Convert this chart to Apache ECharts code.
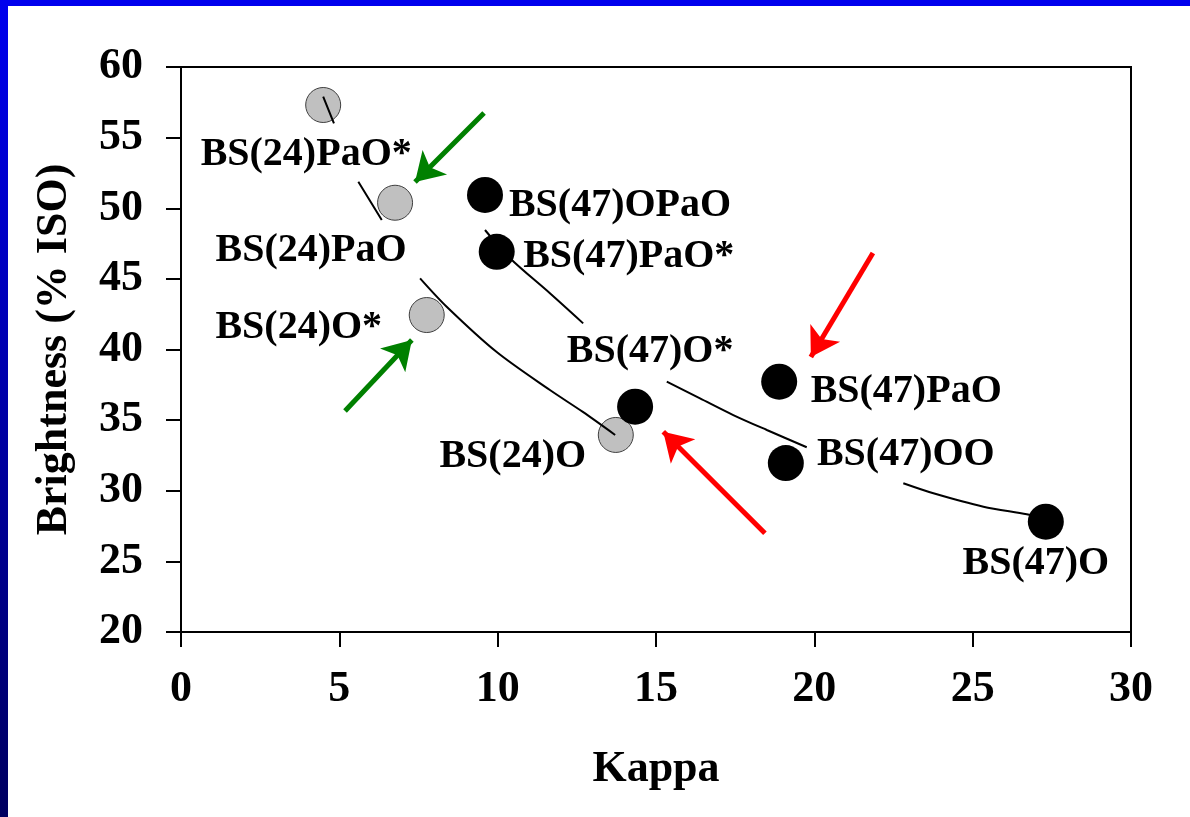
<!DOCTYPE html>
<html>
<head>
<meta charset="utf-8">
<script src="https://cdn.jsdelivr.net/npm/echarts@6/dist/echarts.min.js"></script>
<style>
  html, body { margin: 0; padding: 0; background: #fff; }
  #chart { width: 1190px; height: 817px; }
</style>
</head>
<body>
<div id="chart"></div>
<script>
// ---- data ----
const xTicks = [0, 5, 10, 15, 20, 25, 30];
const yTicks = [20, 25, 30, 35, 40, 45, 50, 55, 60];

const bs24Names = ['BS(24)PaO*', 'BS(24)PaO', 'BS(24)O*', 'BS(24)O'];
const bs24Kappa = [4.49, 6.76, 7.76, 13.73];
const bs24Bright = [57.31, 50.39, 42.44, 33.95];

const bs47Names = ['BS(47)OPaO', 'BS(47)PaO*', 'BS(47)O*', 'BS(47)PaO', 'BS(47)OO', 'BS(47)O'];
const bs47Kappa = [9.60, 9.97, 14.34, 18.89, 19.10, 27.31];
const bs47Bright = [50.94, 46.92, 35.95, 37.72, 31.96, 27.81];

// trend curves (visible pieces; '-' = gap where labels sit)
const trend24 = [[4.49, 57.90], [4.83, 56.01], '-', [5.60, 51.88], [6.34, 49.17], '-',
  [7.55, 45.04], [8.39, 43.03], [9.97, 39.82], [11.65, 37.13], [12.69, 35.58], [13.71, 33.95]];
const trend47 = [[9.60, 48.46], [10.39, 46.46], [11.65, 43.98], [12.70, 41.85], '-',
  [15.34, 37.72], [16.39, 36.54], [17.44, 35.36], [18.50, 34.30], [19.76, 33.08], '-',
  [22.81, 30.53], [23.76, 29.82], [25.34, 28.87], [26.71, 28.33], [27.13, 28.10]];

// annotation arrows [tail, tip]
const greenArrows = [[[9.57, 56.74], [7.39, 51.86]], [[5.18, 35.65], [7.29, 40.67]]];
const redArrows = [[[21.85, 46.83], [19.89, 39.47]], [[18.44, 26.99], [15.23, 34.18]]];

// ---- styling ----
const FONT = 'Liberation Serif';
const bs24Offsets = [[-17, 50], [-84, 48], [-128, 13], [-103, 22]];
const bs47Offsets = [[135, 11], [132, 5], [15, -55], [127, 10], [120, -8], [-10, 42]];

function pts(names, xs, ys, offs) {
  return names.map((n, i) => ({
    name: n, value: [xs[i], ys[i]],
    label: { offset: offs[i] }
  }));
}
function arrows(list, color) {
  return list.map(a => [
    { coord: a[0], lineStyle: { color: color, width: 5, type: 'solid', opacity: 1 } },
    { coord: a[1] }
  ]);
}

const chart = echarts.init(document.getElementById('chart'), null, { renderer: 'canvas' });
const labelStyle = {
  show: true, position: 'inside', formatter: '{b}',
  color: '#000', fontFamily: FONT, fontWeight: 'bold', fontSize: 40
};

chart.setOption({
  animation: false,
  backgroundColor: '#fff',
  graphic: [
    { type: 'rect', left: 0, top: 0, shape: { width: 1190, height: 6 }, style: { fill: '#0000ee' }, z: 100 },
    { type: 'rect', left: 0, top: 0, shape: { width: 8, height: 817 },
      style: { fill: new echarts.graphic.LinearGradient(0, 0, 0, 1, [
        { offset: 0, color: '#0000ee' }, { offset: 1, color: '#000060' }]) }, z: 100 }
  ],
  grid: { left: 181, right: 59, top: 67, bottom: 185, show: true, borderColor: '#000', borderWidth: 2,
          backgroundColor: 'transparent', outerBoundsMode: 'none' },
  xAxis: {
    type: 'value', min: xTicks[0], max: xTicks[xTicks.length - 1], interval: 5,
    name: 'Kappa', nameLocation: 'middle', nameGap: 116,
    nameTextStyle: { fontFamily: FONT, fontWeight: 'bold', fontSize: 44, color: '#000' },
    axisLine: { show: true, lineStyle: { color: '#000', width: 2 } },
    axisTick: { show: true, inside: false, length: 15, lineStyle: { color: '#000', width: 2 } },
    axisLabel: { margin: 36, fontFamily: FONT, fontWeight: 'bold', fontSize: 44, color: '#000' },
    splitLine: { show: false }
  },
  yAxis: {
    type: 'value', min: yTicks[0], max: yTicks[yTicks.length - 1], interval: 5,
    name: 'Brightness (% ISO)', nameLocation: 'middle', nameGap: 104,
    nameTextStyle: { fontFamily: FONT, fontWeight: 'bold', fontSize: 44, color: '#000' },
    axisLine: { show: true, lineStyle: { color: '#000', width: 2 } },
    axisTick: { show: true, inside: false, length: 15, lineStyle: { color: '#000', width: 2 } },
    axisLabel: { margin: 38, fontFamily: FONT, fontWeight: 'bold', fontSize: 44, color: '#000' },
    splitLine: { show: false }
  },
  series: [
    {
      type: 'scatter', name: 'BS(24)', z: 2, symbolSize: 35,
      itemStyle: { color: '#c0c0c0', borderColor: '#404040', borderWidth: 1, opacity: 1 },
      label: labelStyle,
      data: pts(bs24Names, bs24Kappa, bs24Bright, bs24Offsets)
    },
    {
      type: 'scatter', name: 'BS(47)', z: 2, symbolSize: 36,
      itemStyle: { color: '#000', opacity: 1 },
      label: labelStyle,
      data: pts(bs47Names, bs47Kappa, bs47Bright, bs47Offsets)
    },
    {
      type: 'line', z: 3, data: trend24, showSymbol: false, smooth: 0.3, connectNulls: false,
      lineStyle: { color: '#000', width: 2 }, silent: true
    },
    {
      type: 'line', z: 3, data: trend47, showSymbol: false, smooth: 0.3, connectNulls: false,
      lineStyle: { color: '#000', width: 2 }, silent: true
    },
    {
      type: 'line', z: 4, data: [], silent: true,
      markLine: {
        silent: true, symbol: ['none', 'arrow'], symbolSize: [26, 28],
        label: { show: false }, emphasis: { disabled: true },
        data: arrows(greenArrows, '#008000').concat(arrows(redArrows, '#ff0000'))
      }
    }
  ]
});
</script>
</body>
</html>
